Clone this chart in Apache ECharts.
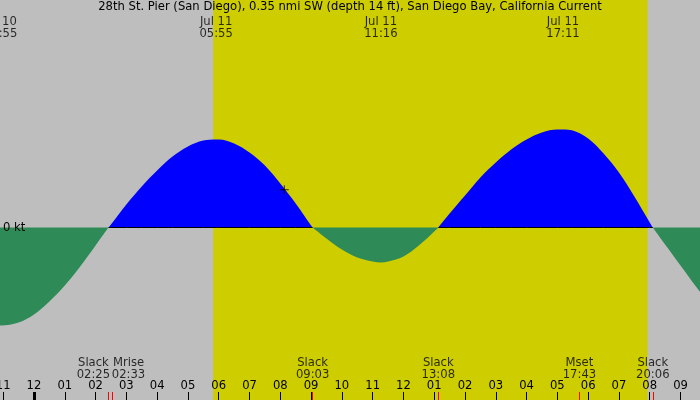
<!DOCTYPE html>
<html>
<head>
<meta charset="utf-8">
<script src="https://cdn.jsdelivr.net/npm/echarts@6/dist/echarts.min.js"></script>
<style>
  html, body { margin: 0; padding: 0; background: #bebebe; }
  #chart { width: 700px; height: 400px; }
</style>
</head>
<body>
<div id="chart"></div>
<script>
// hours after Jul 11 00:00 (negative = Jul 10)
const times = [-1.11, -1.083, -0.5, 0, 0.5, 1, 1.5, 2, 2.417, 2.5, 3, 3.5, 4, 4.5, 5, 5.5, 5.917,
  6, 6.5, 7, 7.5, 8, 8.5, 9, 9.05, 9.5, 10, 10.5, 11, 11.267, 11.5, 12, 12.5, 13, 13.133,
  13.5, 14, 14.5, 15, 15.5, 16, 16.5, 17, 17.183, 17.5, 18, 18.5, 19, 19.5, 20, 20.1,
  20.5, 21, 21.5, 21.65]
// current speed in knots (+ flood, - ebb)
const speed = [-0.98, -0.98, -0.95, -0.87, -0.74, -0.58, -0.39, -0.18, 0, 0.03, 0.23, 0.41, 0.57, 0.71, 0.81, 0.87, 0.88,
  0.88, 0.84, 0.75, 0.62, 0.44, 0.24, 0.02, 0, -0.11, -0.22, -0.30, -0.34, -0.35, -0.34, -0.29, -0.18, -0.04, 0,
  0.14, 0.32, 0.50, 0.65, 0.78, 0.88, 0.95, 0.98, 0.98, 0.97, 0.89, 0.74, 0.55, 0.31, 0.05, 0,
  -0.17, -0.38, -0.59, -0.65]

// max / min current
const extremeTimes = [-1.083, 5.917, 11.267, 17.183]
const extremeLabels = ['Jul 10\n22:55', 'Jul 11\n05:55', 'Jul 11\n11:16', 'Jul 11\n17:11']

// slack, moonrise, moonset
const eventTimes = [2.417, 2.55, 9.05, 13.133, 17.717, 20.1]
const eventLabels = ['Slack\n02:25', 'Mrise\n02:33', 'Slack\n09:03', 'Slack\n13:08', 'Mset\n17:43', 'Slack\n20:06']

const hourTicks = [-1, 0, 1, 2, 3, 4, 5, 6, 7, 8, 9, 10, 11, 12, 13, 14, 15, 16, 17, 18, 19, 20, 21]
const sunrise = 5.82
const sunset = 19.93
const nowMark = [8.13, 0.377]

const X_MIN = -1.1044
const X_MAX = 21.633
const Y_MIN = -1.725
const Y_MAX = 2.275

const title = '28th St. Pier (San Diego), 0.35 nmi SW (depth 14 ft), San Diego Bay, California Current'
const FONT = 'DejaVu Sans'
const FS = 11.6

// split into flood (>= 0) and ebb (<= 0) pieces, slack points belong to both
const flood = times.map((t, i) => [t, speed[i] >= 0 ? speed[i] : '-'])
const ebb = times.map((t, i) => [t, speed[i] <= 0 ? speed[i] : '-'])
const zeroLine = times.map((t, i) => [t, speed[i] >= 0 ? 0 : '-'])

// the two early labels are pushed apart so they don't overlap
const labelShift = { 0: -15, 1: 16 }

const hourLabel = v => {
  let h = ((v % 12) + 12) % 12
  if (h === 0) h = 12
  return (h < 10 ? '0' : '') + h
}

const baseAxis = {
  type: 'value',
  min: X_MIN,
  max: X_MAX,
  position: 'bottom',
  z: 10,
  axisLine: { show: false, onZero: false },
  splitLine: { show: false },
  axisLabel: { show: false }
}

const chart = echarts.init(document.getElementById('chart'))
chart.setOption({
  backgroundColor: '#bebebe',
  animation: false,
  textStyle: { fontFamily: FONT },
  title: {
    text: title,
    left: 'center',
    top: 1,
    padding: 0,
    textStyle: { fontFamily: FONT, fontSize: FS, fontWeight: 'normal', color: '#000' }
  },
  grid: { left: 0, right: 0, top: 0, bottom: 0, outerBoundsMode: 'none', containLabel: false },
  xAxis: [
    {
      ...baseAxis,
      axisTick: { show: true, inside: true, length: 8, customValues: hourTicks, lineStyle: { color: '#000', width: 1 } },
      axisLabel: {
        show: true, inside: true, margin: 8, customValues: hourTicks,
        formatter: hourLabel, color: '#000', fontSize: FS, fontFamily: FONT
      }
    },
    {
      ...baseAxis,
      axisTick: { show: true, inside: true, length: 8, customValues: [0], lineStyle: { color: '#000', width: 3 } }
    },
    {
      ...baseAxis,
      axisTick: { show: true, inside: true, length: 8, customValues: eventTimes, lineStyle: { color: '#ff0000', width: 1 } }
    }
  ],
  yAxis: {
    type: 'value',
    min: Y_MIN,
    max: Y_MAX,
    z: 10,
    axisLine: { show: false, onZero: false },
    axisTick: { show: false },
    splitLine: { show: false },
    axisLabel: {
      show: true, inside: true, margin: 3, customValues: [0],
      formatter: () => '0 kt', color: '#000', fontSize: FS, fontFamily: FONT
    }
  },
  series: [
    {
      name: 'daylight',
      type: 'line',
      data: [],
      z: 1,
      silent: true,
      markArea: {
        silent: true,
        itemStyle: { color: '#cdcd00' },
        data: [[{ xAxis: sunrise }, { xAxis: sunset }]]
      }
    },
    {
      name: 'flood',
      type: 'line',
      data: flood,
      z: 2,
      smooth: 0.35,
      symbol: 'none',
      lineStyle: { width: 0 },
      areaStyle: { color: '#0000ff', opacity: 1 }
    },
    {
      name: 'zero',
      type: 'line',
      data: zeroLine,
      z: 3,
      symbol: 'none',
      silent: true,
      lineStyle: { color: '#000', width: 1 }
    },
    {
      name: 'ebb',
      type: 'line',
      data: ebb,
      z: 4,
      smooth: 0.35,
      symbol: 'none',
      lineStyle: { width: 0 },
      areaStyle: { color: '#2e8b57', opacity: 1 }
    },
    {
      name: 'extremes',
      type: 'scatter',
      z: 5,
      symbolSize: 0,
      data: extremeTimes.map((t, i) => ({ value: [t, Y_MAX], label: { formatter: extremeLabels[i] } })),
      label: {
        show: true, position: 'bottom', distance: 16,
        color: '#000', fontSize: FS, lineHeight: 12, fontFamily: FONT, align: 'center'
      }
    },
    {
      name: 'events',
      type: 'scatter',
      z: 5,
      symbolSize: 0,
      data: eventTimes.map((t, i) => ({
        value: [t, Y_MIN],
        label: { formatter: eventLabels[i], offset: [labelShift[i] || 0, 0] }
      })),
      label: {
        show: true, position: 'top', distance: 19,
        color: '#000', fontSize: FS, lineHeight: 12, fontFamily: FONT, align: 'center'
      }
    },
    {
      name: 'now',
      type: 'scatter',
      z: 6,
      data: [nowMark],
      symbol: 'path://M4,0h1v4h4v1h-4v4h-1v-4h-4v-1h4z',
      symbolSize: 9,
      itemStyle: { color: '#000' }
    }
  ]
})
</script>
</body>
</html>
